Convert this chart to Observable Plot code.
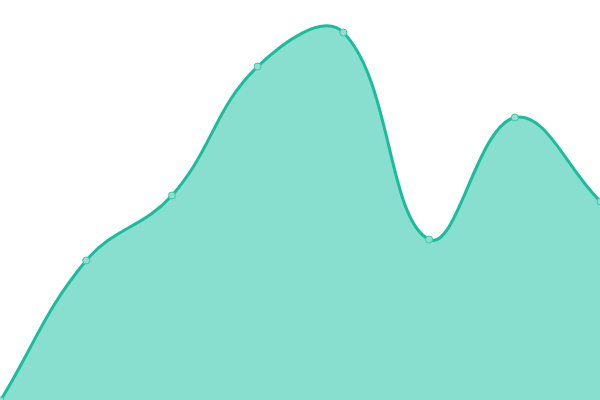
<!DOCTYPE html>
<html><head><meta charset="utf-8">
<script src="https://cdn.jsdelivr.net/npm/d3@7"></script>
<script src="https://cdn.jsdelivr.net/npm/@observablehq/plot@0.6"></script>
<style>html,body{margin:0;padding:0;background:#fff;overflow:hidden}</style>
</head><body><div id="chart"></div>
<script>
const xs = [0, 1, 2, 3, 4, 5, 6, 7];
const values = [0, 140, 205, 334, 368, 161, 283, 199];
const data = xs.map((x, i) => ({x, y: values[i]}));

// Tension-based spline curve (Chart.js style, tension 0.4) as a d3 curve factory
function splineCurve(tension) {
  return function(context) {
    return {
      _line: NaN,
      areaStart() { this._line = 0; },
      areaEnd() { this._line = NaN; },
      lineStart() { this._pts = []; },
      point(x, y) { this._pts.push([+x, +y]); },
      lineEnd() {
        const p = this._pts, n = p.length;
        if (n) {
          if (this._line) context.lineTo(p[0][0], p[0][1]);
          else context.moveTo(p[0][0], p[0][1]);
          const cp = p.map((cur, i) => {
            const prev = p[i - 1] || cur, next = p[i + 1] || cur;
            const d01 = Math.hypot(cur[0] - prev[0], cur[1] - prev[1]);
            const d12 = Math.hypot(next[0] - cur[0], next[1] - cur[1]);
            let s01 = d01 / (d01 + d12), s12 = d12 / (d01 + d12);
            if (!isFinite(s01)) s01 = 0;
            if (!isFinite(s12)) s12 = 0;
            const fa = tension * s01, fb = tension * s12;
            return {
              px: cur[0] - fa * (next[0] - prev[0]), py: cur[1] - fa * (next[1] - prev[1]),
              nx: cur[0] + fb * (next[0] - prev[0]), ny: cur[1] + fb * (next[1] - prev[1])
            };
          });
          for (let i = 1; i < n; i++) {
            context.bezierCurveTo(cp[i - 1].nx, cp[i - 1].ny, cp[i].px, cp[i].py, p[i][0], p[i][1]);
          }
        }
        if (this._line || (this._line !== 0 && n === 1)) context.closePath();
        this._line = 1 - this._line;
      }
    };
  };
}
const curve = splineCurve(0.4);

const chart = Plot.plot({
  width: 600, height: 400,
  margin: 0,
  x: {domain: [0, 7], axis: null},
  y: {domain: [0, 400], axis: null},
  marks: [
    Plot.areaY(data, {x: "x", y: "y", curve, fill: "#88dfcf"}),
    Plot.lineY(data, {x: "x", y: "y", curve, stroke: "#1abc9c", strokeWidth: 3}),
    Plot.dot(data, {x: "x", y: "y", r: 3.5, fill: "#8fe0d0", stroke: "#3cc6aa", strokeWidth: 1})
  ]
});
document.getElementById("chart").appendChild(chart);
</script></body></html>
